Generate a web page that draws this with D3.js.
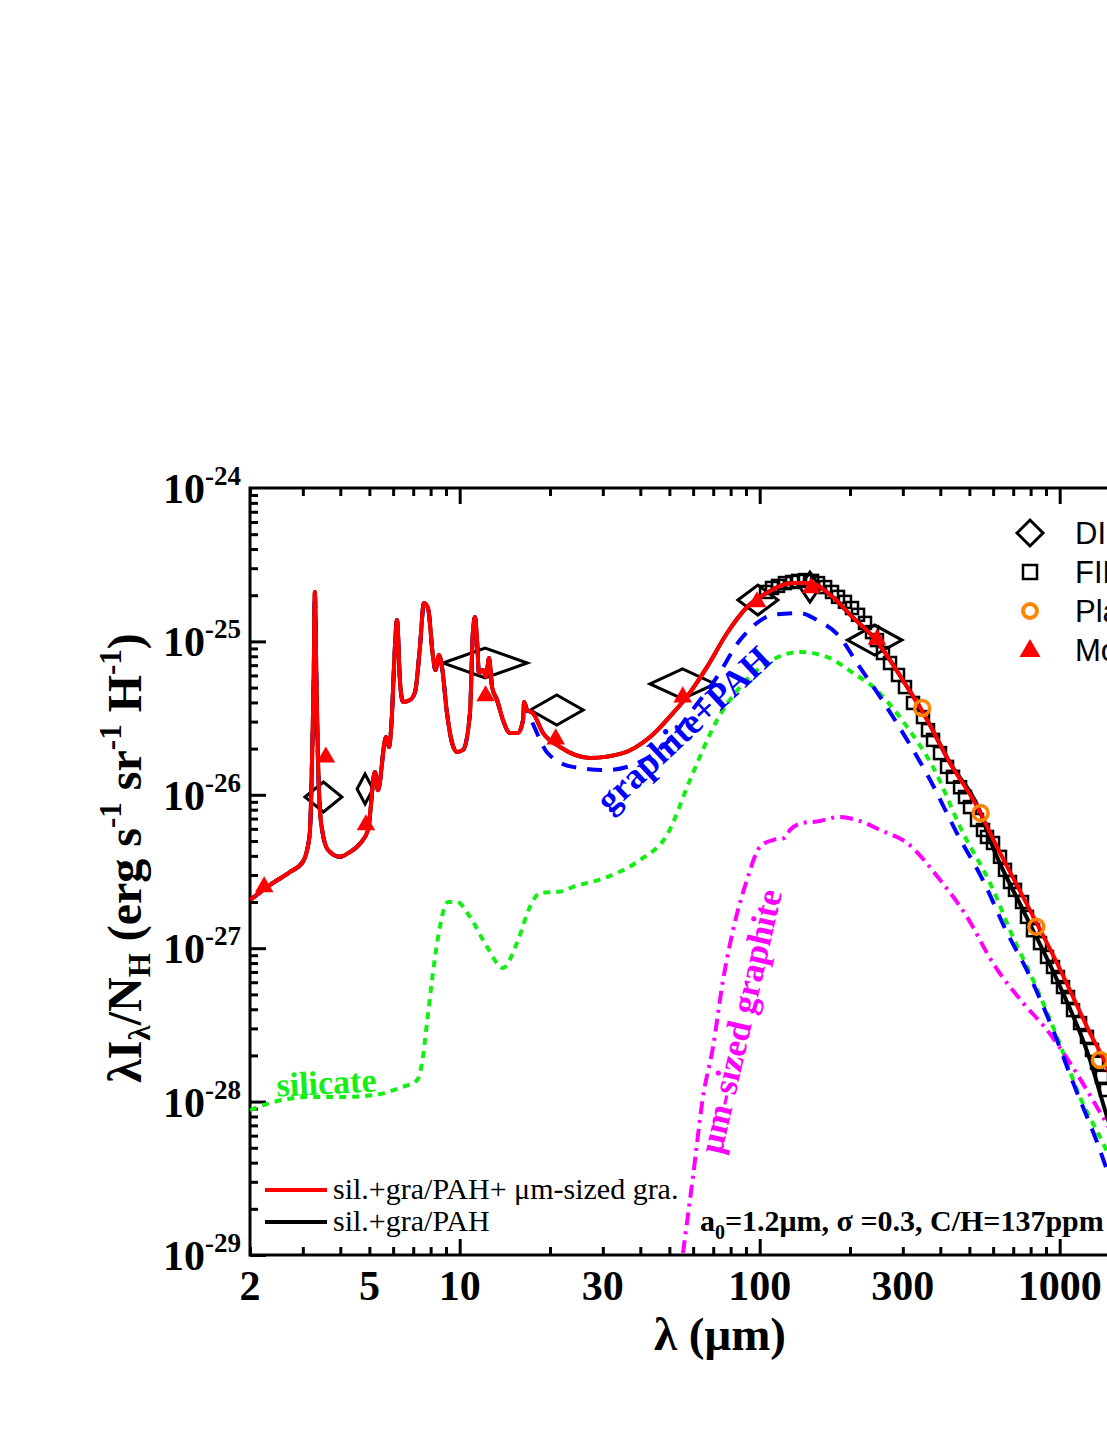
<!DOCTYPE html>
<html>
<head>
<meta charset="utf-8">
<script src="https://cdn.jsdelivr.net/npm/d3@7"></script>
<style>
  body { margin: 0; background: #fff; }
  svg { display: block; }
</style>
</head>
<body>
<div id="chart"></div>
<script>

// wavelength (micron) / lambda I_lambda / N_H

// PAH band region, shared by the total model and graphite+PAH
var pahBand = [[2.00,2.06e-27],[2.33,2.58e-27],[2.72,3.14e-27],[3.00,3.65e-27],[3.10,4.37e-27],
  [3.17,5.9e-27],[3.22,1.69e-26],[3.26,5.5e-26],[3.29,2.10e-25],[3.33,5.5e-26],[3.37,1.69e-26],
  [3.42,8.0e-27],[3.48,5.9e-27],[3.64,4.37e-27],[3.99,3.94e-27],[4.31,4.24e-27],[4.65,4.8e-27],
  [4.95,5.9e-27],[5.22,1.41e-26],[5.34,1.07e-26],[5.68,2.38e-26],[5.81,2.05e-26],[5.95,3.41e-26],
  [6.04,6.81e-26],[6.18,1.38e-25],[6.32,5.6e-26],[6.47,4.03e-26],[6.83,4.15e-26],[7.10,4.68e-26],
  [7.37,9.19e-26],[7.60,1.78e-25],[7.84,1.65e-25],[8.15,7.91e-26],[8.30,6.51e-26],[8.53,8.15e-26],
  [8.73,6.81e-26],[9.07,3.41e-26],[9.43,2.18e-26],[9.80,1.90e-26],[10.26,1.96e-26],[10.82,3.41e-26],
  [11.08,1.19e-25],[11.25,1.44e-25],[11.42,1.02e-25],[11.60,6.22e-26],[11.96,6.51e-26],[12.24,5.86e-26],
  [12.53,7.8e-26],[12.82,5.04e-26],[13.32,4.15e-26],[13.94,3.07e-26],[14.71,2.53e-26],[15.64,2.53e-26],
  [16.26,3.07e-26],[16.39,4.03e-26],[16.76,3.57e-26]];

// sil.+gra/PAH+um-sized gra. (red)
var totalFar = [[17.54,3.41e-26],[18.96,2.53e-26],[21.6,2.05e-26],[27.2,1.74e-26],[35,1.87e-26],
  [43.1,2.38e-26],[51.4,3.41e-26],[57.2,4.36e-26],[66.7,6.8e-26],[77.8,1.13e-25],[90.6,1.67e-25],
  [105.6,2.07e-25],[128.6,2.4e-25],[147,2.4e-25],[175,1.95e-25],[204,1.44e-25],[239,1.07e-25],
  [310,5.05e-26],[351,3.41e-26],[431,1.61e-26],[545,7.6e-27]];
var totalTail = [[586,5.64e-27],[755,2.16e-27],[980,8.0e-28],[1262,2.8e-28],[1437,1.68e-28],[1600,8.5e-29]];

// sil.+gra/PAH (black), splits from the red curve longward of ~550 um
var silGraTail = [[586,5.07e-27],[755,1.77e-27],[980,6.21e-28],[1262,1.87e-28],[1416,8.81e-29],[1600,4.2e-29]];

// graphite+PAH (blue dashed)
var graphitePAH = [[17.42,3.0e-26],[18.5,2.3e-26],[19.5,1.9e-26],[23.8,1.52e-26],[30.8,1.45e-26],
  [39.9,1.64e-26],[49,2.18e-26],[58.6,3.41e-26],[72,5.86e-26],[86,1.02e-25],[98,1.32e-25],
  [111,1.49e-25],[136,1.53e-25],[155,1.38e-25],[185,1.07e-25],[211,7.24e-26],[252,4.35e-26],
  [310,2.28e-26],[370,1.25e-26],[454,5.64e-27],[554,2.79e-27],[668,1.26e-27],[776,7.24e-28],
  [950,2.93e-28],[1110,1.32e-28],[1362,4.83e-29],[1437,3.58e-29],[1600,2.0e-29]];

// silicate (green dotted)
var silicate = [[2.00,8.81e-29],[2.39,9.93e-29],[3.10,1.07e-28],[3.99,1.07e-28],[5.14,1.10e-28],
  [6.32,1.23e-28],[7.21,1.38e-28],[7.49,1.79e-28],[7.78,3.25e-28],[8.09,6.21e-28],[8.47,1.18e-27],
  [9.14,2.0e-27],[9.80,2.0e-27],[10.82,1.6e-27],[12.33,1.02e-27],[13.94,7.43e-28],[15.52,1.08e-27],
  [17.15,1.86e-27],[18.5,2.29e-27],[21.6,2.34e-27],[23.9,2.51e-27],[31.0,2.91e-27],[39.9,3.76e-27],
  [49.1,5.47e-27],[58.6,1.25e-26],[72.1,3.07e-26],[86.0,5.04e-26],[105.8,7.23e-26],[136,8.53e-26],
  [168,7.91e-26],[205,6.22e-26],[239,5.04e-26],[310,2.77e-26],[378,1.52e-26],[476,5.64e-27],
  [586,2.66e-27],[699,1.18e-27],[815,6.21e-28],[980,2.64e-28],[1169,1.07e-28],[1394,5.37e-29],[1600,3.0e-29]];

// um-sized graphite (magenta dash-dot)
var bigGraphite = [[55.5,1.03e-29],[59.9,3.22e-29],[64.7,1.07e-28],[69.9,2.27e-28],[75.5,6.21e-28],
  [81.5,1.31e-27],[90.7,2.79e-27],[100.2,4.57e-27],[110.8,5.07e-27],[121.4,5.23e-27],[126.2,5.9e-27],
  [139,6.55e-27],[155,6.7e-27],[185,7.16e-27],[211,6.85e-27],[252,5.9e-27],[310,4.85e-27],
  [399,2.79e-27],[491,1.6e-27],[599,8.0e-28],[755,4.4e-28],[907,2.93e-28],[1082,1.79e-28],
  [1332,9.2e-29],[1600,5.0e-29]];

// DIRBE band edges and values
var dirbeLo    = [3.05, 4.55, 8.8, 17.2, 43.1, 84.6, 136, 196];
var dirbeHi    = [4.05, 5.14, 16.8, 25.8, 71.0, 115, 159, 298];
var dirbeValue = [9.68e-27, 1.09e-26, 7.23e-26, 3.57e-26, 5.28e-26, 1.86e-25, 2.26e-25, 1.02e-25];

// FIRAS
var firas = [[105.0,2.10e-25],[109.9,2.23e-25],[115.1,2.30e-25],[121.4,2.40e-25],[128.2,2.44e-25],
  [134.2,2.48e-25],[141.6,2.51e-25],[149.4,2.48e-25],[156.5,2.40e-25],[165.2,2.26e-25],[174.2,2.10e-25],
  [182.4,1.95e-25],[192.4,1.81e-25],[203.1,1.65e-25],[212.7,1.49e-25],[224.4,1.32e-25],[236.8,1.15e-25],
  [246.0,1.02e-25],[257.6,8.40e-26],[271.9,7.23e-26],[289.1,6.04e-26],[305.0,5.04e-26],[324.4,3.97e-26],
  [350.2,3.21e-26],[364.0,2.64e-26],[378.3,2.28e-26],[399.1,1.87e-26],[421.2,1.52e-26],[441.0,1.31e-26],
  [465.5,1.12e-26],[483.5,9.68e-27],[502.4,8.32e-27],[530.1,6.85e-27],[555.1,5.90e-27],[572.4,5.31e-27],
  [599.5,4.85e-27],[632.5,3.94e-27],[657.2,3.24e-27],[682.9,2.70e-27],[709.6,2.40e-27],[748.8,2.00e-27],
  [778.0,1.60e-27],[814.8,1.31e-27],[859.8,1.08e-27],[907.3,8.77e-28],[950.1,7.54e-28],[987.1,6.49e-28],
  [1025.8,5.58e-28],[1066.0,4.81e-28],[1107.7,3.95e-28],[1169.2,3.25e-28],[1233.2,2.64e-28],
  [1281.4,2.17e-28],[1331.7,1.79e-28],[1383.6,1.45e-28],[1426.8,1.19e-28]];

// Planck
var planckWave  = [348, 545, 836, 1362];
var planckValue = [3.68e-26, 7.61e-27, 1.38e-27, 1.87e-28];

// Model band fluxes
var modelWave  = [2.23, 3.58, 4.87, 12.2, 20.9, 55.4, 98, 148.6, 246];
var modelValue = [2.51e-27, 1.76e-26, 6.36e-27, 4.41e-26, 2.31e-26, 4.34e-26, 1.81e-25, 2.23e-25, 1.03e-25];

var xTickLabels = [2, 5, 10, 30, 100, 300, 1000];
var yTickExponents = [-24, -25, -26, -27, -28, -29];
var legendNames = ["DIRBE", "FIRAS", "Planck", "Model"];

var W = 1107, H = 1433;
var plotLeft = 250, plotTop = 488, plotBottom = 1255;

var x = d3.scaleLog().domain([2, 3000]).range([plotLeft, plotLeft + 300 * Math.log10(1500)]);
var y = d3.scaleLog().domain([1e-29, 1e-24]).range([plotBottom, plotTop]);

var svg = d3.select("#chart")
            .append("svg")
            .attr("width", W)
            .attr("height", H)
            .style("font-family", "'Liberation Serif', 'Times New Roman', serif");

svg.append("clipPath").attr("id", "plotClip")
   .append("rect")
   .attr("x", plotLeft).attr("y", plotTop)
   .attr("width", W - plotLeft).attr("height", plotBottom - plotTop);

var isMajor = function(v) {
  var l = Math.log10(v);
  return Math.abs(l - Math.round(l)) < 1e-6;
};

// ticks (all point inward)
var xMinor = x.ticks().filter(function(d) { return !isMajor(d); });
var xMajor = x.ticks().filter(isMajor);
var yMinor = y.ticks().filter(function(d) { return !isMajor(d); });
var yMajor = y.ticks().filter(isMajor);

function tickGroup(axis, tx, ty) {
  var g = svg.append("g")
     .attr("transform", "translate(" + tx + "," + ty + ")")
     .call(axis);
  g.select(".domain").remove();
  g.selectAll("line").attr("stroke", "#000").attr("stroke-width", 3);
  return g;
}
tickGroup(d3.axisBottom(x).tickValues(xMinor).tickSize(-8).tickFormat(""), 0, plotBottom);
tickGroup(d3.axisBottom(x).tickValues(xMajor).tickSize(-16).tickFormat(""), 0, plotBottom);
tickGroup(d3.axisTop(x).tickValues(xMinor).tickSize(-8).tickFormat(""), 0, plotTop);
tickGroup(d3.axisTop(x).tickValues(xMajor).tickSize(-16).tickFormat(""), 0, plotTop);
tickGroup(d3.axisLeft(y).tickValues(yMinor).tickSize(-8).tickFormat(""), plotLeft, 0);
tickGroup(d3.axisLeft(y).tickValues(yMajor).tickSize(-16).tickFormat(""), plotLeft, 0);

// frame
svg.append("rect")
   .attr("x", plotLeft).attr("y", plotTop)
   .attr("width", x(3000) - plotLeft).attr("height", plotBottom - plotTop)
   .attr("fill", "none").attr("stroke", "#000").attr("stroke-width", 3);

// x tick labels
svg.selectAll(".xlab")
   .data(xTickLabels)
   .enter()
   .append("text")
   .attr("x", function(d) { return x(d); })
   .attr("y", 1300)
   .attr("text-anchor", "middle")
   .attr("font-size", 42)
   .attr("font-weight", "bold")
   .text(function(d) { return d; });

// y tick labels  10^n
var ylab = svg.selectAll(".ylab")
   .data(yTickExponents)
   .enter()
   .append("text")
   .attr("x", 241)
   .attr("y", function(d) { return y(Math.pow(10, d)) + 15; })
   .attr("text-anchor", "end")
   .attr("font-size", 42)
   .attr("font-weight", "bold");
ylab.append("tspan").text("10");
ylab.append("tspan").attr("dy", -18).attr("font-size", 27).text(function(d) { return d; });

// axis titles
svg.append("text")
   .attr("x", 720).attr("y", 1350)
   .attr("text-anchor", "middle")
   .attr("font-size", 47).attr("font-weight", "bold")
   .text("λ (μm)");

var yt = svg.append("text")
   .attr("transform", "translate(141,858) rotate(-90)")
   .attr("text-anchor", "middle")
   .attr("font-size", 48).attr("font-weight", "bold");
yt.append("tspan").text("λI");
yt.append("tspan").attr("dy", 9).attr("font-size", 31).text("λ");
yt.append("tspan").attr("dy", -9).text("/N");
yt.append("tspan").attr("dy", 9).attr("font-size", 31).text("H");
yt.append("tspan").attr("dy", -9).text(" (erg s");
yt.append("tspan").attr("dy", -20).attr("font-size", 31).text("-1");
yt.append("tspan").attr("dy", 20).text(" sr");
yt.append("tspan").attr("dy", -20).attr("font-size", 31).text("-1");
yt.append("tspan").attr("dy", 20).text(" H");
yt.append("tspan").attr("dy", -20).attr("font-size", 31).text("-1");
yt.append("tspan").attr("dy", 20).text(")");

var plot = svg.append("g").attr("clip-path", "url(#plotClip)");

var line = d3.line()
   .x(function(d) { return x(d[0]); })
   .y(function(d) { return y(d[1]); })
   .curve(d3.curveMonotoneX);

// DIRBE diamonds, width spans the band
plot.selectAll(".dirbe")
   .data(dirbeValue)
   .enter()
   .append("path")
   .attr("d", function(d, i) {
      var xl = x(dirbeLo[i]), xh = x(dirbeHi[i]), xm = (xl + xh) / 2, yc = y(d);
      return "M" + xl + "," + yc + "L" + xm + "," + (yc - 15) + "L" + xh + "," + yc + "L" + xm + "," + (yc + 15) + "Z";
   })
   .attr("fill", "none").attr("stroke", "#000").attr("stroke-width", 3);

// FIRAS squares
plot.selectAll(".firas")
   .data(firas)
   .enter()
   .append("rect")
   .attr("x", function(d) { return x(d[0]) - 6; })
   .attr("y", function(d) { return y(d[1]) - 6; })
   .attr("width", 12).attr("height", 12)
   .attr("fill", "none").attr("stroke", "#000").attr("stroke-width", 2.5);

// model curves
plot.append("path").datum(silicate).attr("d", line)
   .attr("fill", "none").attr("stroke", "#14ee14").attr("stroke-width", 4).attr("stroke-dasharray", "7,6");
plot.append("path").datum(bigGraphite).attr("d", line)
   .attr("fill", "none").attr("stroke", "#ff00ff").attr("stroke-width", 4).attr("stroke-dasharray", "13,6,3,6");
plot.append("path").datum(pahBand.concat(graphitePAH)).attr("d", line)
   .attr("fill", "none").attr("stroke", "#0000ff").attr("stroke-width", 4).attr("stroke-dasharray", "15,11");
plot.append("path").datum(pahBand.concat(totalFar, silGraTail)).attr("d", line)
   .attr("fill", "none").attr("stroke", "#000").attr("stroke-width", 4);
plot.append("path").datum(pahBand.concat(totalFar, totalTail)).attr("d", line)
   .attr("fill", "none").attr("stroke", "#ff0000").attr("stroke-width", 4);

// Planck circles
plot.selectAll(".planck")
   .data(planckValue)
   .enter()
   .append("circle")
   .attr("cx", function(d, i) { return x(planckWave[i]); })
   .attr("cy", function(d) { return y(d); })
   .attr("r", 7.5)
   .attr("fill", "none").attr("stroke", "#ff8400").attr("stroke-width", 3.5);

// Model triangles
var tri = d3.symbol().type(d3.symbolTriangle).size(150);
plot.selectAll(".model")
   .data(modelValue)
   .enter()
   .append("path")
   .attr("d", tri)
   .attr("transform", function(d, i) { return "translate(" + x(modelWave[i]) + "," + y(d) + ")"; })
   .attr("fill", "#ff0000");

// curve labels
svg.append("text")
   .attr("transform", "translate(327,1094) rotate(-3)")
   .attr("text-anchor", "middle")
   .attr("font-size", 34).attr("font-weight", "bold").attr("fill", "#14ee14")
   .text("silicate");
svg.append("text")
   .attr("transform", "translate(686,732) rotate(-43)")
   .attr("text-anchor", "middle").attr("dominant-baseline", "middle")
   .attr("font-size", 36).attr("font-weight", "bold").attr("fill", "#0000ff")
   .text("graphite+PAH");
svg.append("text")
   .attr("transform", "translate(744,1022) rotate(-77)")
   .attr("text-anchor", "middle").attr("dominant-baseline", "middle")
   .attr("font-size", 35).attr("font-weight", "bold").attr("fill", "#ff00ff")
   .text("μm-sized graphite");

// bottom-left legend
var lineLegend = [["sil.+gra/PAH+ μm-sized gra.", "#ff0000"], ["sil.+gra/PAH", "#000"]];
lineLegend.forEach(function(d, i) {
  var yy = 1190 + i * 32;
  svg.append("line").attr("x1", 265).attr("x2", 327).attr("y1", yy).attr("y2", yy)
     .attr("stroke", d[1]).attr("stroke-width", 4);
  svg.append("text").attr("x", 333).attr("y", yy + 9)
     .attr("font-size", 30).text(d[0]);
});

// parameters
var par = svg.append("text").attr("x", 700).attr("y", 1231)
   .attr("font-size", 30).attr("font-weight", "bold");
par.append("tspan").text("a");
par.append("tspan").attr("dy", 8).attr("font-size", 20).text("0");
par.append("tspan").attr("dy", -8).text("=1.2μm, σ =0.3, C/H=137ppm");

// top-right legend
var lg = svg.append("g").style("font-family", "'Liberation Sans', Arial, sans-serif");
legendNames.forEach(function(name, i) {
  var yy = 533 + i * 39;
  lg.append("text").attr("x", 1075).attr("y", yy + 11).attr("font-size", 31).text(name);
});
lg.append("path").attr("d", "M1017,533L1030,520L1043,533L1030,546Z")
  .attr("fill", "none").attr("stroke", "#000").attr("stroke-width", 3);
lg.append("rect").attr("x", 1023).attr("y", 565).attr("width", 14).attr("height", 14)
  .attr("fill", "none").attr("stroke", "#000").attr("stroke-width", 2.5);
lg.append("circle").attr("cx", 1030).attr("cy", 611).attr("r", 7)
  .attr("fill", "none").attr("stroke", "#ff8400").attr("stroke-width", 4);
lg.append("path").attr("d", d3.symbol().type(d3.symbolTriangle).size(190))
  .attr("transform", "translate(1030,651)").attr("fill", "#ff0000");

</script>
</body>
</html>
